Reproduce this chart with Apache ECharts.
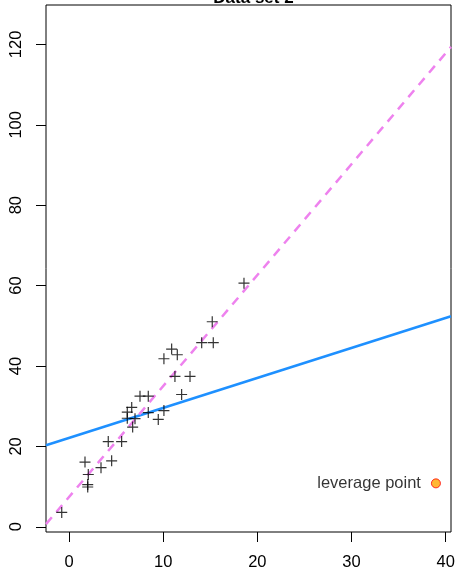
<!DOCTYPE html>
<html>
<head>
<meta charset="utf-8">
<script src="https://cdn.jsdelivr.net/npm/echarts@6/dist/echarts.min.js"></script>
<style>html,body{margin:0;padding:0;background:#fff;}#c{width:458px;height:572px;}</style>
</head>
<body>
<div id="c"></div>
<script>
// Data
const xValues = [-0.77, 1.70, 2.05, 1.99, 1.99, 3.40, 4.53, 4.17, 5.59, 6.66, 6.19, 6.19, 7.01, 6.76, 7.54, 8.42, 8.42, 9.48, 10.08, 10.08, 10.90, 11.50, 11.25, 12.85, 11.96, 14.09, 15.32, 15.21, 18.58];
const yValues = [3.57, 16.1, 13.0, 10.5, 9.9, 14.7, 16.4, 21.2, 21.2, 29.7, 28.5, 27.0, 26.9, 24.8, 32.5, 32.5, 28.4, 26.7, 28.9, 41.8, 44.2, 42.8, 37.4, 37.4, 32.9, 45.8, 45.8, 51.0, 60.6];
const leverageX = [38.96];
const leverageY = [10.8];
const leverageLabel = ["leverage point"];
const fitAll = [22.1, 0.746];      // intercept, slope (with leverage point)
const fitClean = [7.39, 2.761];    // intercept, slope (without leverage point)
const xTicks = [0, 10, 20, 30, 40];
const yTicks = [0, 20, 40, 60, 80, 100, 120];
const titleText = "Data set 2";

const xMin = -2.44, xMax = 40.56, yMin = -1.3, yMax = 129.8;
const lineEnds = (c) => [[xMin, c[0] + c[1] * xMin], [xMax, c[0] + c[1] * xMax]];
const font = "'Liberation Sans', Arial, Helvetica, sans-serif";

const chart = echarts.init(document.getElementById('c'), null, {renderer: 'canvas'});
chart.setOption({
  animation: false,
  title: {
    text: titleText, left: 248.5, textAlign: 'center', top: -15,
    textStyle: {fontFamily: font, fontSize: 17, fontWeight: 'bold', color: '#000'}
  },
  grid: {left: 46, right: 7, top: 5, bottom: 40, show: true, borderColor: '#000', borderWidth: 1, backgroundColor: 'transparent'},
  xAxis: {
    type: 'value', min: xMin, max: xMax, position: 'bottom',
    axisLine: {show: false, onZero: false},
    splitLine: {show: false},
    axisTick: {show: true, inside: false, length: 10, lineStyle: {color: '#000', width: 1}, customValues: xTicks},
    axisLabel: {show: true, margin: 22, fontFamily: font, fontSize: 16.5, color: '#000', customValues: xTicks, formatter: v => String(v)}
  },
  yAxis: {
    type: 'value', min: yMin, max: yMax, position: 'left',
    axisLine: {show: false, onZero: false},
    splitLine: {show: false},
    axisTick: {show: true, inside: false, length: 10, lineStyle: {color: '#000', width: 1}, customValues: yTicks},
    axisLabel: {show: true, rotate: 90, margin: 21, fontFamily: font, fontSize: 16.5, color: '#000', customValues: yTicks, formatter: v => String(v)}
  },
  series: [
    {
      type: 'line', data: lineEnds(fitAll), symbol: 'none', silent: true,
      lineStyle: {color: '#1E90FF', width: 2.5}
    },
    {
      type: 'line', data: lineEnds(fitClean), symbol: 'none', silent: true,
      lineStyle: {color: '#EE82EE', width: 2.5, type: [9, 7]}
    },
    {
      type: 'scatter',
      data: xValues.map((x, i) => [x, yValues[i]]),
      symbol: 'path://M0,5 L10,5 M5,0 L5,10',
      symbolSize: 11,
      itemStyle: {color: 'transparent', borderColor: '#000', borderWidth: 1.2},
      z: 5
    },
    {
      type: 'scatter',
      data: leverageX.map((x, i) => ({value: [x, leverageY[i]], name: leverageLabel[i]})),
      symbol: 'circle', symbolSize: 9,
      itemStyle: {color: '#FFA500', borderColor: '#FF0000', borderWidth: 1},
      label: {show: true, position: 'left', distance: 10, formatter: p => p.name, fontFamily: font, fontSize: 16.5, color: '#000'},
      z: 6
    }
  ]
});
</script>
</body>
</html>
